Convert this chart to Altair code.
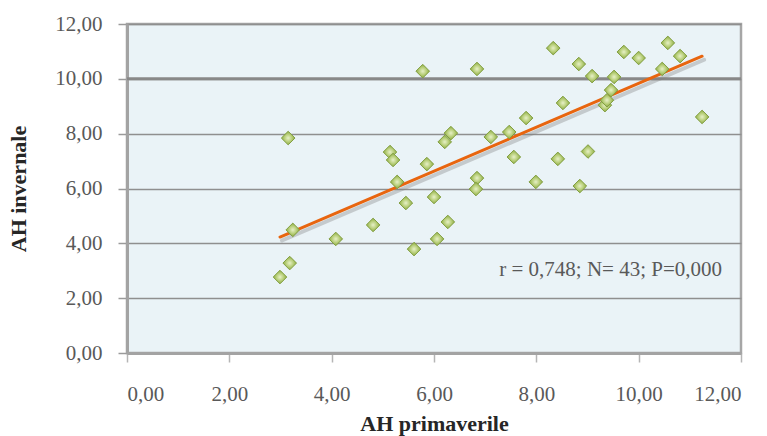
import altair as alt
import pandas as pd

# AH values, spring (x) vs winter (y)
ah_primaverile = [2.99, 3.18, 3.15, 3.24, 4.08, 4.81, 5.14, 5.20, 5.28, 5.45,
                  5.61, 5.86, 6.00, 6.06, 5.78, 6.84, 8.33, 8.83, 9.09, 8.52,
                  7.80, 7.47, 7.11, 6.33, 6.21, 9.01, 9.71, 10.00, 10.57, 10.81,
                  10.46, 9.52, 9.46, 9.34, 9.38, 11.24, 6.84, 6.82, 7.56, 8.42,
                  7.99, 8.85, 6.27]
ah_invernale = [2.77, 3.28, 7.84, 4.49, 4.16, 4.67, 7.33, 7.04, 6.24, 5.47,
                3.79, 6.89, 5.69, 4.16, 10.28, 10.36, 11.12, 10.54, 10.10, 9.12,
                8.57, 8.06, 7.88, 8.02, 7.70, 7.35, 10.98, 10.76, 11.31, 10.83,
                10.36, 10.07, 9.59, 9.04, 9.22, 8.61, 6.38, 5.98, 7.15, 7.08,
                6.24, 6.09, 4.78]

axis_ticks = [0, 2, 4, 6, 8, 10, 12]
strong_grid = [10]
stats_text = ["r = 0,748; N= 43; P=0,000"]
stats_x = [11.63]
stats_y = [3.03]

points = pd.DataFrame({"prim": ah_primaverile, "inv": ah_invernale})
grid_df = pd.DataFrame({"inv": strong_grid})
stats_df = pd.DataFrame({"t": stats_text, "prim": stats_x, "inv": stats_y})

SERIF = "Liberation Serif"
comma_fmt = "replace(format(datum.value, '.2f'), '.', ',')"

x_scale = alt.Scale(domain=[0, 12], nice=False)
y_scale = alt.Scale(domain=[0, 12], nice=False)

x_axis = alt.Axis(
    values=axis_ticks, labelExpr=comma_fmt, title="AH primaverile",
    grid=False, domainColor="#A3A3A3", domainWidth=3,
    tickColor="#B5B5B5", tickWidth=1.5, tickSize=9,
    labelFont=SERIF, labelFontSize=21, labelColor="#595959", labelPadding=21,
    titleFont=SERIF, titleFontSize=22, titleFontWeight="bold", titleColor="#262626",
    titleY=60,
)
y_axis = alt.Axis(
    values=axis_ticks, labelExpr=comma_fmt, title="AH invernale",
    grid=True, gridColor="#8F8F8F", gridWidth=1.6,
    domainColor="#A3A3A3", domainWidth=3,
    tickColor="#9A9A9A", tickWidth=1.5, tickSize=9,
    labelFont=SERIF, labelFontSize=21, labelColor="#595959", labelPadding=16,
    titleFont=SERIF, titleFontSize=22, titleFontWeight="bold", titleColor="#262626",
    titleX=-97, titleY=164.5,
)

X = alt.X("prim:Q", scale=x_scale, axis=x_axis)
Y = alt.Y("inv:Q", scale=y_scale, axis=y_axis)

base = alt.Chart(points)

# heavier gridline at 10
strong = alt.Chart(grid_df).mark_rule(color="#888888", strokeWidth=3).encode(y=Y)

trend_shadow = base.transform_regression("prim", "inv").mark_line(
    color="#7F7F7F", strokeWidth=4, opacity=0.35, xOffset=2, yOffset=3.5,
    strokeCap="round"
).encode(x=X, y=Y)

trend = base.transform_regression("prim", "inv").mark_line(
    color="#E8650F", strokeWidth=3, strokeCap="round"
).encode(x=X, y=Y)

diamond_fill = alt.RadialGradient(
    gradient="radial",
    stops=[
        alt.GradientStop(color="#E8F1C8", offset=0),
        alt.GradientStop(color="#B3CB72", offset=0.6),
        alt.GradientStop(color="#8DAA45", offset=1),
    ],
)

dots = base.mark_point(
    shape="diamond", filled=True, size=185, fill=diamond_fill,
    stroke="#819E40", strokeWidth=1, opacity=1
).encode(x=X, y=Y)

stats = alt.Chart(stats_df).mark_text(
    font=SERIF, fontSize=21, color="#595959", align="right", baseline="middle"
).encode(x=X, y=Y, text="t:N")

chart = alt.layer(strong, trend_shadow, trend, dots, stats).properties(
    width=614, height=329,
    padding={"left": 127, "top": 24, "right": 26, "bottom": 83},
    autosize=alt.AutoSizeParams(type="none"),
    background="white",
).configure_view(
    fill="#EAF3F7", stroke="#A6A6A6", strokeWidth=2.5
)

chart.save("out.html", embed_options={"renderer": "svg", "actions": False})
